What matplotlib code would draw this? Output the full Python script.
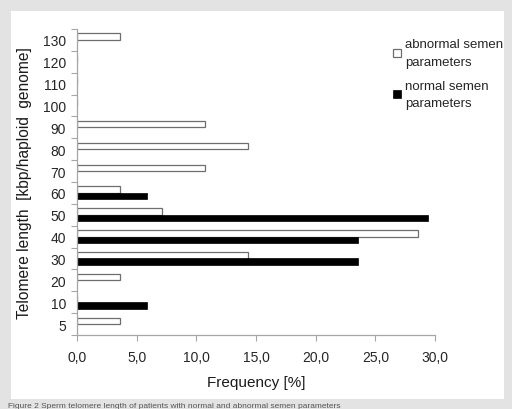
import matplotlib
matplotlib.use("Agg")
import numpy as np
from matplotlib import pyplot as plt
from matplotlib.patches import Rectangle
from matplotlib.legend_handler import HandlerPatch

plt.rcParams['font.family'] = ['Liberation Sans', 'DejaVu Sans']

# telomere length classes (kbp/haploid genome), bottom to top
lengths = ["5", "10", "20", "30", "40", "50", "60", "70", "80", "90", "100", "110", "120", "130"]
# frequency [%]
abnormal = [3.57, 0, 3.57, 14.29, 28.57, 7.14, 3.57, 10.71, 14.29, 10.71, 0, 0, 0, 3.57]
normal = [0, 5.88, 0, 23.53, 23.53, 29.41, 5.88, 0, 0, 0, 0, 0, 0, 0]
x_ticks = [0, 5, 10, 15, 20, 25, 30]
x_tick_labels = ["0,0", "5,0", "10,0", "15,0", "20,0", "25,0", "30,0"]

LEG_LS = 1.6


def top_square(legend, orig_handle, xdescent, ydescent, width, height, fontsize):
    # put the key next to the first line of a two-line label
    return Rectangle((-xdescent, -ydescent + LEG_LS / 1.2 * 1.15 * fontsize), width, height)


def main():
    fig = plt.figure(figsize=(5.12, 4.10), dpi=100, facecolor="#e3e3e3")
    # white panel
    fig.patches.append(Rectangle((11 / 512, 1 - 400 / 410), 493 / 512, 388 / 410,
                                 transform=fig.transFigure, facecolor="white",
                                 edgecolor="none", zorder=-5))

    ax = fig.add_axes([77 / 512, 1 - 336 / 410, 358 / 512, 306 / 410])
    ax.set_facecolor("none")
    ax.set_zorder(2)
    y = np.arange(len(lengths))
    h = 0.3
    ax.barh(y + h / 2, abnormal, height=h, color="white", edgecolor="#6e6e6e",
            linewidth=0.9, label="abnormal semen\nparameters")
    ax.barh(y - h / 2, normal, height=h, color="black", edgecolor="black",
            linewidth=0.5, label="normal semen\nparameters")

    ax.set_xlim(0, 30)
    ax.set_ylim(-0.5, len(lengths) - 0.5)
    ax.set_xticks(x_ticks)
    ax.set_xticklabels(x_tick_labels)
    ax.set_yticks(y)
    ax.set_yticklabels(lengths)
    ax.set_yticks(np.arange(-0.5, len(lengths)), minor=True)
    ax.tick_params(axis="y", which="major", length=0, pad=8, labelsize=10, labelcolor="#262626")
    ax.tick_params(axis="y", which="minor", length=4, color="#a6a6a6", width=0.8)
    ax.tick_params(axis="x", length=4, color="#a6a6a6", width=0.8, pad=7,
                   labelsize=10, labelcolor="#262626")
    for side in ["top", "right"]:
        ax.spines[side].set_visible(False)
    for side in ["left", "bottom"]:
        ax.spines[side].set_color("#a6a6a6")
        ax.spines[side].set_linewidth(0.9)

    ax.set_xlabel("Frequency [%]", fontsize=11, color="#1a1a1a", labelpad=8)
    ax.set_ylabel("Telomere length  [kbp/haploid  genome]", fontsize=11.2,
                  color="#1a1a1a", labelpad=8)

    leg = fig.legend(loc="upper left", bbox_to_anchor=(388 / 512, 1 - 34 / 410),
                     frameon=False, fontsize=9.5, handlelength=0.55, handleheight=0.55,
                     handletextpad=0.35, labelspacing=0.9, borderaxespad=0,
                     handler_map={Rectangle: HandlerPatch(patch_func=top_square)})
    leg.set_zorder(3)
    for t in leg.get_texts():
        t.set_color("#262626")
        t.set_linespacing(LEG_LS)

    fig.text(8 / 512, 0.0, "Figure 2 Sperm telomere length of patients with normal and abnormal semen parameters",
             fontsize=6, color="#555555", va="bottom", ha="left")

    fig.savefig("out.png", dpi=100, facecolor=fig.get_facecolor())


if __name__ == "__main__":
    main()
